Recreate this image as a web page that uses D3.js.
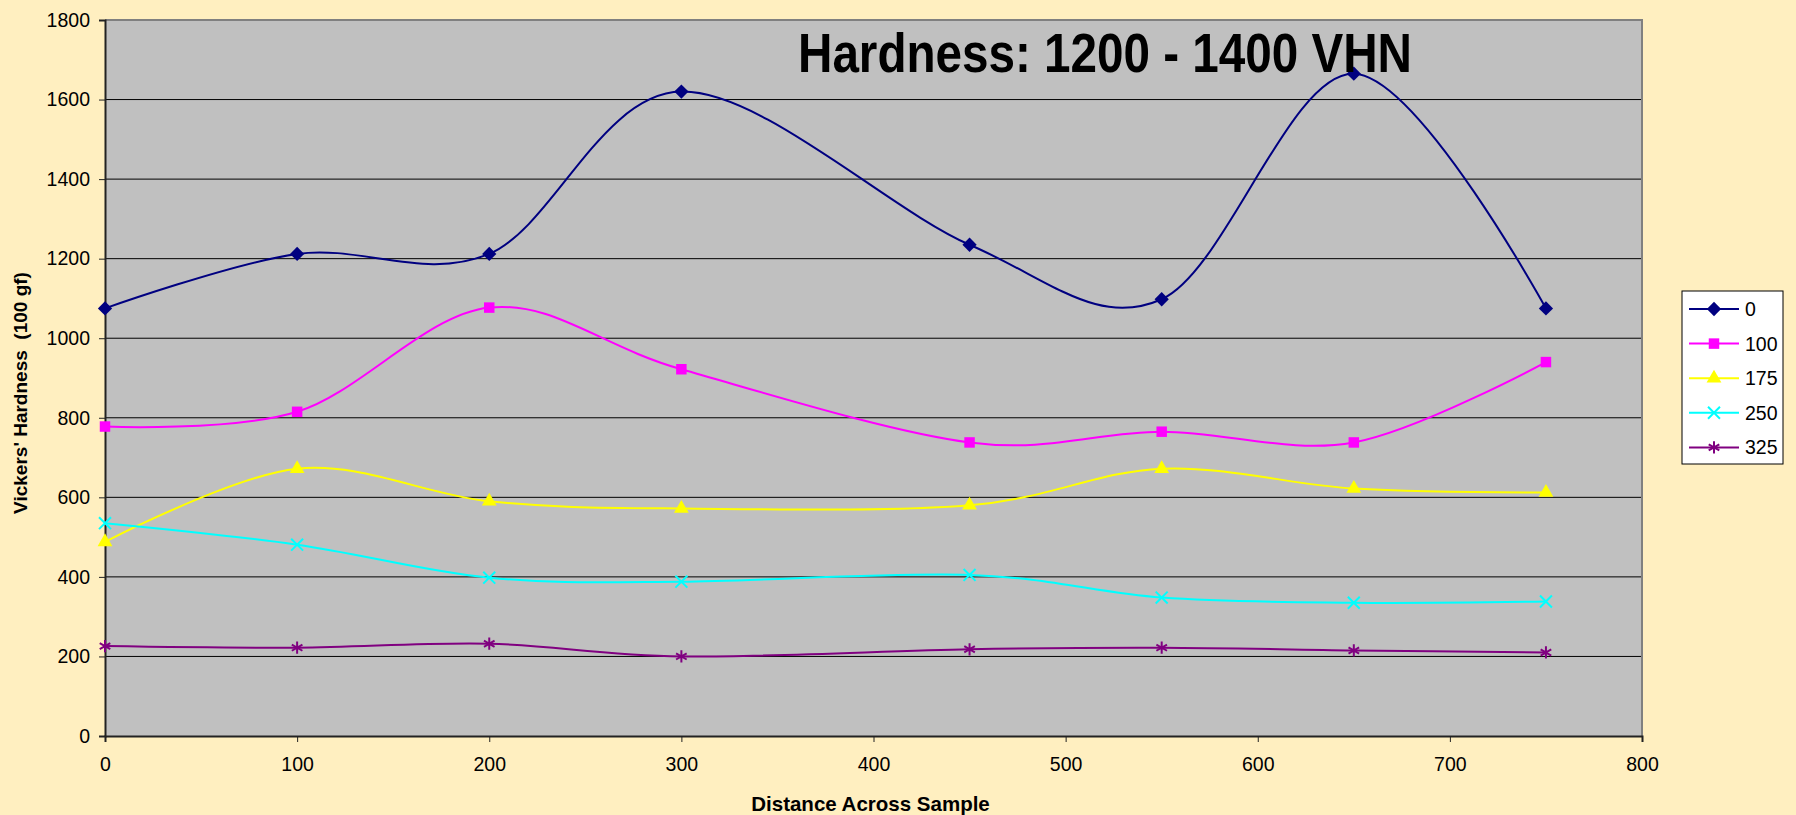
<!DOCTYPE html>
<html>
<head>
<meta charset="utf-8">
<script src="https://cdn.jsdelivr.net/npm/d3@7"></script>
<style>
  body { margin: 0; background: #FFEFC0; }
  svg { display: block; font-family: Arial, "Liberation Sans", sans-serif; }
</style>
</head>
<body>
<svg id="chart" width="1796" height="815"></svg>
<script>
// distances along sample
const distances = [0, 100, 200, 300, 450, 550, 650, 750];
// one series per legend entry
const seriesNames = ["0", "100", "175", "250", "325"];
const hard0   = [1075, 1212, 1212, 1620, 1235, 1098, 1665, 1075];
const hard100 = [778, 815, 1077, 922, 738, 765, 738, 940];
const hard175 = [488, 672, 590, 572, 580, 672, 622, 612];
const hard250 = [535, 481, 398, 388, 405, 348, 335, 338];
const hard325 = [226, 222, 232, 200, 218, 222, 215, 210];
const xTicks = [0, 100, 200, 300, 400, 500, 600, 700, 800];
const yTicks = [0, 200, 400, 600, 800, 1000, 1200, 1400, 1600, 1800];

const seriesValues = [hard0, hard100, hard175, hard250, hard325];
const colors = ["#000080", "#FF00FF", "#FFFF00", "#00FFFF", "#800080"];

// marker shapes, Excel style
const diamond = d3.symbolDiamond2 || d3.symbolDiamond;
const markers = [
  { type: diamond, size: 130, fill: true },
  { type: d3.symbolSquare, size: 110, fill: true },
  { type: d3.symbolTriangle, size: 95, fill: true },
  { type: d3.symbolX || d3.symbolCross, size: 95, fill: false },
  { type: d3.symbolAsterisk || d3.symbolStar, size: 105, fill: false }
];

const plot = { left: 105, right: 1642, top: 20, bottom: 736 };
const svg = d3.select("#chart");

const x = d3.scaleLinear().domain([0, 800]).range([plot.left, plot.right]);
const y = d3.scaleLinear().domain([0, 1800]).range([plot.bottom, plot.top]);

// plot background
svg.append("rect")
  .attr("x", plot.left).attr("y", plot.top)
  .attr("width", plot.right - plot.left).attr("height", plot.bottom - plot.top)
  .attr("fill", "#C0C0C0");

// gridlines
svg.append("g")
  .selectAll("line")
  .data(yTicks.filter(d => d > 0 && d < 1800))
  .join("line")
  .attr("x1", plot.left).attr("x2", plot.right)
  .attr("y1", d => y(d)).attr("y2", d => y(d))
  .attr("stroke", "#000").attr("stroke-width", 1);

// plot frame: top/right grey, left/bottom dark
svg.append("path")
  .attr("d", `M${plot.left},${plot.top}H${plot.right}V${plot.bottom}`)
  .attr("fill", "none").attr("stroke", "#808080").attr("stroke-width", 2);

// axes
const yAxis = svg.append("g")
  .attr("transform", `translate(${plot.left},0)`)
  .call(d3.axisLeft(y).tickValues(yTicks).tickFormat(d3.format("d")).tickSize(6).tickPadding(9));
const xAxis = svg.append("g")
  .attr("transform", `translate(0,${plot.bottom})`)
  .call(d3.axisBottom(x).tickValues(xTicks).tickFormat(d3.format("d")).tickSize(6).tickPadding(15));

[yAxis, xAxis].forEach(g => {
  g.select(".domain").attr("stroke", "#222").attr("stroke-width", 2);
  g.selectAll(".tick line").attr("stroke", "#222");
  g.selectAll(".tick text")
    .attr("font-size", 19.5)
    .attr("font-family", "Arial, 'Liberation Sans', sans-serif")
    .attr("fill", "#000");
});

// series lines
const line = d3.line()
  .x(d => x(d.x))
  .y(d => y(d.y))
  .curve(d3.curveCardinal.tension(0));

seriesValues.forEach((vals, i) => {
  const data = distances.map((d, j) => ({ x: d, y: vals[j] }));
  svg.append("path")
    .datum(data)
    .attr("fill", "none")
    .attr("stroke", colors[i])
    .attr("stroke-width", 2)
    .attr("d", line);
});

// markers drawn after all lines
seriesValues.forEach((vals, i) => {
  const data = distances.map((d, j) => ({ x: d, y: vals[j] }));
  const m = markers[i];
  svg.append("g")
    .selectAll("path")
    .data(data)
    .join("path")
    .attr("transform", d => `translate(${x(d.x)},${y(d.y)})`)
    .attr("d", d3.symbol().type(m.type).size(m.size))
    .attr("fill", m.fill ? colors[i] : "none")
    .attr("stroke", colors[i])
    .attr("stroke-width", m.fill ? 0 : 2);
});

// title inside plot area
svg.append("text")
  .attr("x", 798).attr("y", 72)
  .attr("font-size", 56)
  .attr("font-weight", "bold")
  .attr("font-family", "'Liberation Sans Narrow', 'Arial Narrow', Arial, sans-serif")
  .attr("textLength", 614)
  .attr("lengthAdjust", "spacingAndGlyphs")
  .text("Hardness: 1200 - 1400 VHN");

// axis titles
svg.append("text")
  .attr("x", (plot.left + plot.right) / 2 - 3).attr("y", 811)
  .attr("text-anchor", "middle")
  .attr("font-size", 20.5).attr("font-weight", "bold")
  .text("Distance Across Sample");

svg.append("text")
  .attr("transform", `translate(27,${(plot.top + plot.bottom) / 2 + 15}) rotate(-90)`)
  .attr("text-anchor", "middle")
  .attr("font-size", 19).attr("font-weight", "bold")
  .attr("xml:space", "preserve")
  .style("white-space", "pre")
  .text("Vickers' Hardness  (100 gf)");

// legend
const legend = svg.append("g");
legend.append("rect")
  .attr("x", 1682).attr("y", 291)
  .attr("width", 101).attr("height", 173)
  .attr("fill", "#fff").attr("stroke", "#000").attr("stroke-width", 1);

seriesNames.forEach((name, i) => {
  const ly = 309 + i * 34.6;
  const m = markers[i];
  legend.append("line")
    .attr("x1", 1689).attr("x2", 1739)
    .attr("y1", ly).attr("y2", ly)
    .attr("stroke", colors[i]).attr("stroke-width", 2);
  legend.append("path")
    .attr("transform", `translate(1714,${ly})`)
    .attr("d", d3.symbol().type(m.type).size(m.size))
    .attr("fill", m.fill ? colors[i] : "none")
    .attr("stroke", colors[i])
    .attr("stroke-width", m.fill ? 0 : 2);
  legend.append("text")
    .attr("x", 1745).attr("y", ly + 7)
    .attr("font-size", 19.5)
    .text(name);
});
</script>
</body>
</html>
